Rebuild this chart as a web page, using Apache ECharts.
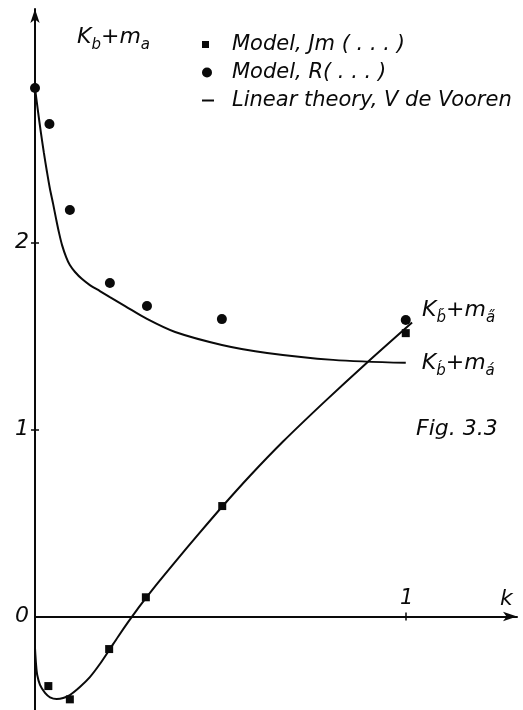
<!DOCTYPE html>
<html>
<head>
<meta charset="utf-8">
<script src="https://cdn.jsdelivr.net/npm/echarts@6/dist/echarts.min.js"></script>
<style>
  html, body { margin: 0; padding: 0; background: #fff; }
  #chart { width: 523px; height: 710px; }
</style>
</head>
<body>
<div id="chart"></div>
<script>
// Tick positions and labels
const kTickValues = [1];
const kTickLabels = ['1'];
const yTickValues = [1, 2];
const yLabelValues = [0, 1, 2];

// Model results (k, Kb + ma)
const jmK = [0.036, 0.094, 0.2, 0.299, 0.505, 1.0];
const jmV = [-0.372, -0.443, -0.174, 0.103, 0.591, 1.516];
const rK = [0, 0.039, 0.094, 0.202, 0.302, 0.504, 1.0];
const rV = [2.827, 2.635, 2.175, 1.784, 1.661, 1.591, 1.586];

// Linear theory (V de Vooren): K'b + m'a
const upperK = [0, 0.008, 0.016, 0.024, 0.032, 0.04, 0.049, 0.057, 0.065, 0.073, 0.084, 0.094, 0.108, 0.127, 0.148, 0.175, 0.202, 0.243, 0.302, 0.378, 0.504, 0.626, 0.804, 1.0];
const upperV = [2.827, 2.704, 2.587, 2.480, 2.382, 2.291, 2.206, 2.126, 2.051, 1.987, 1.923, 1.880, 1.843, 1.805, 1.773, 1.741, 1.709, 1.661, 1.592, 1.522, 1.453, 1.410, 1.373, 1.357];

// Linear theory (V de Vooren): K''b + m''a
const lowerK = [0, 0.003, 0.006, 0.0135, 0.027, 0.0405, 0.0585, 0.076, 0.094, 0.121, 0.148, 0.175, 0.2, 0.224, 0.251, 0.275, 0.297, 0.332, 0.372, 0.445, 0.504, 0.58, 0.669, 0.782, 0.893, 1.017];
const lowerV = [-0.168, -0.26, -0.313, -0.366, -0.409, -0.432, -0.441, -0.436, -0.42, -0.377, -0.324, -0.254, -0.180, -0.108, -0.030, 0.036, 0.093, 0.181, 0.278, 0.450, 0.586, 0.753, 0.936, 1.151, 1.354, 1.573];

const zip = (a, b) => a.map((x, i) => [x, b[i]]);

const FONT = 'DejaVu Sans';
const INK = '#0a0a0a';
const txt = (size) => ({ fontFamily: FONT, fontStyle: 'italic', fontWeight: 'normal', fontSize: size, color: INK });

const richTerm = {
  k: txt(22),
  s: Object.assign(txt(15), { padding: [16, 0, 0, 0] })
};

const THEORY = 'Linear theory, V de Vooren';
const JM = 'Model, Jm ( . . . )';
const RR = 'Model, R( . . . )';

const chart = echarts.init(document.getElementById('chart'), null, { renderer: 'canvas' });

const legendBase = {
  orient: 'vertical',
  left: 197,
  itemGap: 0,
  selectedMode: false
};

chart.setOption({
  animation: false,
  backgroundColor: '#fff',
  title: [
    {
      text: '{k|K}{s|b}{k|+m}{s|a}',
      left: 72, top: 17,
      textStyle: { fontWeight: 'normal', rich: richTerm }
    },
    {
      text: 'Fig. 3.3',
      left: 411, top: 413,
      textStyle: txt(22)
    }
  ],
  legend: [
    Object.assign({}, legendBase, {
      top: 29, itemWidth: 7, itemHeight: 7,
      data: [{ name: JM, icon: 'rect' }],
      textStyle: Object.assign(txt(21), { padding: [0, 0, 0, 18] })
    }),
    Object.assign({}, legendBase, {
      top: 57, itemWidth: 10, itemHeight: 10,
      data: [{ name: RR, icon: 'circle' }],
      textStyle: Object.assign(txt(21), { padding: [0, 0, 0, 15] })
    }),
    Object.assign({}, legendBase, {
      top: 85, itemWidth: 12, itemHeight: 2,
      data: [{ name: THEORY, icon: 'rect' }],
      textStyle: Object.assign(txt(21), { padding: [0, 0, 0, 13] })
    })
  ],
  grid: { left: 35, top: 9, width: 482, height: 701, containLabel: false },
  xAxis: [
    {
      type: 'value', min: 0, max: 1.3,
      axisLine: {
        onZero: true, symbol: ['none', 'arrow'], symbolSize: [7, 14],
        lineStyle: { color: INK, width: 2 }
      },
      axisTick: { customValues: kTickValues, length: 4, lineStyle: { color: INK, width: 1.5 } },
      axisLabel: { show: false },
      splitLine: { show: false },
      name: 'k', nameLocation: 'end', nameGap: -17,
      nameTextStyle: Object.assign(txt(22), { verticalAlign: 'bottom', padding: [0, 0, 6, 0] })
    },
    {
      type: 'value', min: 0, max: 1.3, position: 'bottom',
      axisLine: { show: false, onZero: true },
      axisTick: { customValues: kTickValues, inside: true, length: 4, lineStyle: { color: INK, width: 1.5 } },
      axisLabel: { show: false },
      splitLine: { show: false }
    }
  ],
  yAxis: [
    {
      type: 'value', min: -0.5, max: 3.25,
      axisLine: {
        onZero: false, symbol: ['none', 'arrow'], symbolSize: [7, 14],
        lineStyle: { color: INK, width: 2 }
      },
      axisTick: { customValues: yTickValues, length: 4, lineStyle: { color: INK, width: 1.5 } },
      axisLabel: Object.assign(txt(22), { customValues: yLabelValues, margin: 6 }),
      splitLine: { show: false }
    },
    {
      type: 'value', min: -0.5, max: 3.25, position: 'left',
      axisLine: { show: false, onZero: false },
      axisTick: { customValues: yTickValues, inside: true, length: 4, lineStyle: { color: INK, width: 1.5 } },
      axisLabel: { show: false },
      splitLine: { show: false }
    }
  ],
  series: [
    {
      name: THEORY, type: 'line', data: zip(upperK, upperV),
      smooth: 0.3, symbol: 'none', color: INK,
      lineStyle: { color: INK, width: 2 },
      endLabel: {
        show: true, distance: 16,
        formatter: '{k|K}{s|b\u0301}{k|+m}{s|a\u0301}',
        rich: richTerm
      },
      z: 3
    },
    {
      name: THEORY, type: 'line', data: zip(lowerK, lowerV),
      smooth: 0.3, symbol: 'none', color: INK,
      lineStyle: { color: INK, width: 2 },
      endLabel: {
        show: true, distance: 10, offset: [0, -12],
        formatter: '{k|K}{s|b\u030B}{k|+m}{s|a\u030B}',
        rich: richTerm
      },
      z: 3
    },
    {
      name: JM, type: 'scatter', data: zip(jmK, jmV),
      symbol: 'rect', symbolSize: 8, color: INK,
      itemStyle: { color: INK, opacity: 1 }, z: 4
    },
    {
      name: RR, type: 'scatter', data: zip(rK, rV),
      symbol: 'circle', symbolSize: 10, color: INK,
      itemStyle: { color: INK, opacity: 1 }, z: 4
    }
  ]
});

// Tick labels on the k axis sit above the axis line, next to their ticks
chart.setOption({
  graphic: kTickValues.map((v, i) => {
    const p = chart.convertToPixel({ xAxisIndex: 0, yAxisIndex: 0 }, [v, 0]);
    return {
      type: 'text', x: p[0] + 1, y: p[1] - 7, silent: true,
      style: { text: kTickLabels[i], align: 'center', verticalAlign: 'bottom',
               font: 'italic 21px "DejaVu Sans"', fill: INK }
    };
  })
});
</script>
</body>
</html>
